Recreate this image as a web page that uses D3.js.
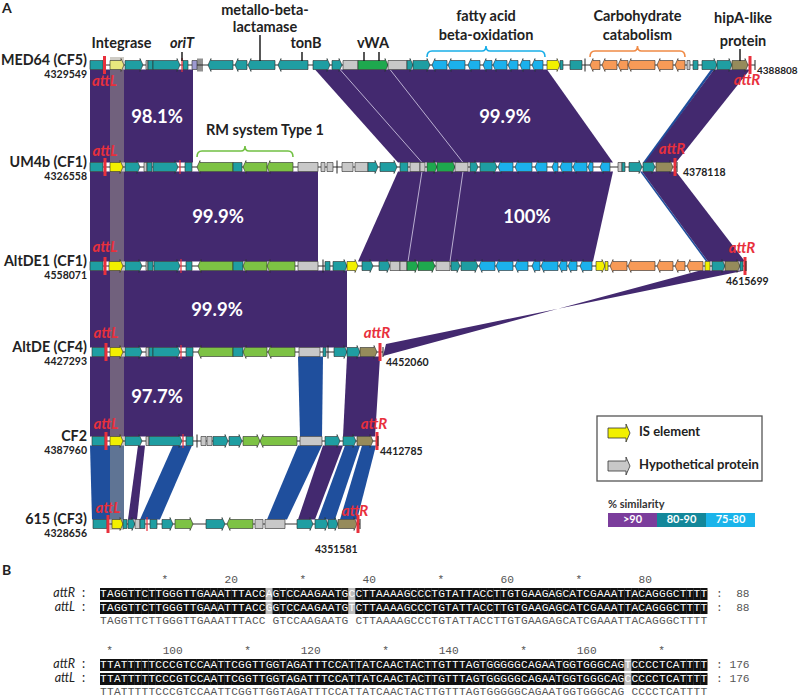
<!DOCTYPE html>
<html><head><meta charset="utf-8">
<script src="https://cdn.jsdelivr.net/npm/d3@7"></script>
<style>body{margin:0;background:#fff}svg{display:block}</style>
</head><body>
<script>
// ---------------- DATA ----------------
const trackNames = ["MED64 (CF5)","UM4b (CF1)","AltDE1 (CF1)","AltDE (CF4)","CF2","615 (CF3)"];
const trackStartCoords = ["4329549","4326558","4558071","4427293","4387960","4328656"];
const trackEndCoords = ["4388808","4378118","4615699","4452060","4412785","4351581"];
const trackSpans = [[0,66.5],[0,58.7],[0,65.6],[0.2,29.3],[0.2,28.8],[0.3,27.0]];
const attLPos = [1.45,1.5,1.5,1.6,1.6,1.8];
const attRPos = [66.0,58.5,65.5,29.0,28.7,26.8];
const oriTPos = [9.2,9.0,9.1,9.1,9.3,5.7];

// genes: [start kb, end kb, strand, type]
const genesMED64 = [[0,1.3,0,"t"],[2.0,3.4,1,"py"],[3.5,5.3,1,"t"],[5.6,5.8,0,"g"],[5.8,6.3,0,"t"],[6.3,9.0,1,"t"],[9.3,9.8,0,"t"],[10.2,10.7,0,"l"],[10.8,10.9,0,"k"],[11.0,11.1,0,"k"],[11.2,11.3,0,"k"],
 [11.8,14.3,-1,"t"],[14.5,15.7,-1,"t"],[15.8,18.5,-1,"t"],[18.8,21.8,-1,"t"],[22.3,24.0,1,"t"],[24.2,25.2,1,"t"],[25.3,26.8,0,"g"],[26.8,29.8,1,"dg"],[29.8,31.7,0,"g"],[31.7,32.3,1,"t"],[32.3,34.0,1,"t"],
 [34.2,35.7,-1,"b"],[35.8,37.5,-1,"b"],[37.8,39.0,-1,"b"],[39.3,40.2,-1,"b"],[40.3,41.7,-1,"b"],[41.8,42.8,-1,"b"],[43.0,44.0,-1,"b"],[44.2,45.3,-1,"b"],
 [45.7,47.0,1,"y"],[47.0,47.3,0,"t"],[48.0,49.2,0,"t"],[49.5,49.6,0,"k"],[50.0,51.0,-1,"o"],[51.2,52.7,-1,"o"],[52.8,53.8,-1,"o"],[53.8,56.5,-1,"o"],[56.7,58.3,-1,"o"],[58.5,59.5,-1,"o"],[59.7,60.0,0,"g"],
 [60.3,60.8,0,"t"],[61.2,62.7,1,"t"],[62.7,64.2,1,"t"],[64.2,65.8,1,"ol"]];
const genesUM4b = [[0,1.3,0,"t"],[2.0,3.3,1,"y"],[3.5,5.0,1,"t"],[5.4,5.7,0,"g"],[5.7,6.2,0,"t"],[6.3,8.8,1,"t"],[9.5,10.2,0,"t"],
 [10.7,14.3,-1,"lg"],[14.3,15.2,0,"t"],[15.3,17.7,-1,"lg"],[17.7,20.3,-1,"lg"],[20.8,22.8,0,"g"],[23.1,23.5,0,"g"],[23.7,24.3,0,"g"],[24.7,24.8,0,"k"],[25.2,26.3,0,"g"],[26.5,27.8,0,"g"],
 [27.8,28.8,1,"t"],[29.0,30.7,1,"t"],[31.0,31.8,0,"t"],[32.0,33.0,0,"g"],[33.0,33.5,0,"g"],[33.7,34.7,1,"dg"],[34.7,36.5,1,"dg"],[36.5,37.8,0,"g"],[38.0,38.8,1,"t"],[39.0,40.7,1,"t"],
 [40.8,42.3,-1,"b"],[42.5,44.2,-1,"b"],[44.5,45.7,-1,"b"],[46.2,46.8,-1,"b"],[47.0,48.2,-1,"b"],[48.3,49.7,-1,"b"],[49.8,50.3,-1,"b"],[51.0,52.0,-1,"b"],
 [52.8,53.2,0,"g"],[53.2,53.5,0,"t"],[53.9,55.2,1,"t"],[55.3,56.5,1,"t"],[56.6,58.3,1,"ol"]];
const genesAltDE1 = [[0,1.3,0,"t"],[1.9,3.3,1,"y"],[3.5,5.2,1,"t"],[5.6,5.8,0,"g"],[5.8,6.3,0,"t"],[6.4,9.0,1,"t"],[9.6,10.2,0,"t"],
 [10.8,14.3,-1,"lg"],[14.3,15.3,0,"t"],[15.3,17.7,-1,"lg"],[17.7,20.5,-1,"lg"],[20.8,22.8,0,"g"],[23.3,23.4,0,"k"],[23.5,24.0,0,"t"],
 [24.3,25.7,1,"t"],[25.7,26.8,1,"y"],[27.2,28.3,1,"t"],[28.9,30.0,1,"t"],[30.0,31.0,0,"g"],[31.0,31.7,0,"g"],[31.7,32.8,1,"dg"],[32.8,34.5,1,"dg"],[34.6,36.0,0,"g"],[36.1,37.0,1,"t"],[37.1,38.8,1,"t"],
 [38.9,40.5,-1,"b"],[40.6,42.3,-1,"b"],[42.5,43.8,-1,"b"],[44.2,45.0,-1,"b"],[45.1,46.8,-1,"b"],[46.9,47.7,-1,"b"],[47.8,48.7,-1,"b"],[49.0,50.2,-1,"b"],
 [50.6,51.5,1,"y"],[51.5,51.8,0,"y"],[52.0,53.7,-1,"o"],[53.8,56.5,-1,"o"],[56.7,58.3,-1,"o"],[58.5,59.5,-1,"o"],[59.7,61.3,-1,"o"],[61.5,62.0,0,"y"],[62.2,63.5,1,"t"],[63.5,65.0,1,"ol"],[65.0,65.3,0,"t"]];
const genesAltDE = [[0.2,1.5,0,"t"],[2.0,3.3,1,"y"],[3.5,5.2,1,"t"],[5.6,5.9,0,"g"],[5.9,6.3,0,"t"],[6.3,9.0,1,"t"],[9.6,10.3,0,"t"],
 [10.8,14.3,-1,"lg"],[14.3,15.3,0,"t"],[15.3,17.7,-1,"lg"],[17.8,20.5,-1,"lg"],[20.9,23.0,0,"g"],[23.3,23.6,0,"t"],[23.8,23.9,0,"k"],[24.4,25.7,1,"t"],[25.7,27.0,1,"t"],[27.0,28.7,1,"ol"]];
const genesCF2 = [[0.2,1.5,0,"t"],[2.0,3.3,1,"y"],[3.5,5.2,1,"t"],[5.6,5.9,0,"g"],[5.9,9.2,1,"t"],[9.6,10.3,0,"t"],[10.7,10.8,0,"k"],[11.1,11.6,0,"g"],[11.7,12.2,0,"g"],
 [12.3,13.8,1,"t"],[13.9,15.2,1,"t"],[15.3,17.0,1,"lg"],[17.0,20.7,-1,"lg"],[21.0,23.2,0,"g"],[23.5,25.0,1,"t"],[25.3,26.6,1,"t"],[26.7,28.3,1,"ol"]];
const genes615 = [[0.3,1.7,0,"t"],[2.2,3.3,1,"y"],[3.3,3.7,0,"t"],[3.8,4.5,1,"t"],[4.5,5.0,0,"g"],[5.0,5.5,0,"t"],[6.0,6.7,0,"t"],[7.2,8.3,1,"t"],[8.5,10.3,1,"lg"],
 [11.6,13.5,1,"t"],[13.7,16.3,-1,"lg"],[16.5,17.3,0,"g"],[17.5,19.5,0,"g"],[20.7,22.3,1,"t"],[22.5,23.8,1,"t"],[23.8,24.8,1,"t"],[24.8,26.7,1,"ol"]];
const trackGenes = [genesMED64,genesUM4b,genesAltDE1,genesAltDE,genesCF2,genes615];

// similarity bands between consecutive tracks: [topStart, topEnd, bottomStart, bottomEnd, level]
const bandsMED64toUM4b = [[0,10.3,0,10.3,">90"],[22.5,45.7,30.8,52.3,">90"],[62.1,62.4,55.3,55.6,"blue"],[62.4,66.0,55.5,58.6,">90"]];
const bandsUM4btoAltDE1 = [[0,22.8,0,22.8,">90"],[30.8,52.3,26.8,50.3,">90"],[55.0,55.2,61.6,61.8,"blue"],[55.2,58.6,61.8,65.5,">90"]];
const bandsAltDE1toAltDE = [[0,25.7,0,25.7,">90"],[61.0,65.5,29.3,29.6,">90"]];
const bandsAltDEtoCF2 = [[0,10.3,0,10.3,">90"],[20.8,23.3,21.0,23.2,"blue"],[25.7,29.0,25.3,28.5,">90"]];
const bandsCF2to615 = [[0,3.4,0.2,3.4,"blue"],[4.8,5.5,3.8,4.7,">90"],[8.3,10.2,5.0,7.0,"blue"],[20.8,23.2,17.7,19.7,"blue"],[23.3,25.3,20.8,22.5,">90"],[25.5,27.0,22.8,24.5,"blue"],[27.2,28.6,25.0,26.7,"blue"]];
const trackBands = [bandsMED64toUM4b,bandsUM4btoAltDE1,bandsAltDE1toAltDE,bandsAltDEtoCF2,bandsCF2to615];
const seamsMED64toUM4b = [[25.0,33.2],[30.0,37.3]];
const seamsUM4btoAltDE1 = [[33.2,31.8],[37.3,36.0]];

const identityLabels = ["98.1%","99.9%","99.9%","100%","99.9%","97.7%"];
const identityPairs = [0,0,1,1,2,3];
const identityPos = [6.7,41.5,12.8,43.7,12.7,6.7];

const annotTexts = [["Integrase"],["oriT"],["metallo-beta-","lactamase"],["tonB"],["vWA"],["hipA-like","protein"]];
const annotCenters = [3.15,9.2,17.5,21.6,28.3,65.3];
const annotTicks = [[],[9.2],[17.0],[21.2],[27.4,28.9],[65.0]];
const bracketTexts = [["fatty acid","beta-oxidation"],["Carbohydrate","catabolism"],["RM system Type 1"]];
const bracketRanges = [[33.7,45.5],[50.0,59.5],[10.7,20.3]];

const legendItems = ["IS element","Hypothetical protein"];
const similarityLevels = [">90","80-90","75-80"];

// part B alignment
const seqAttR = ["TAGGTTCTTGGGTTGAAATTTACCAGTCCAAGAATGCCTTAAAAGCCCTGTATTACCTTGTGAAGAGCATCGAAATTACAGGGCTTTT",
                 "TTATTTTTCCCGTCCAATTCGGTTGGTAGATTTCCATTATCAACTACTTGTTTAGTGGGGGCAGAATGGTGGGCAGTCCCCTCATTTT"];
const seqAttL = ["TAGGTTCTTGGGTTGAAATTTACCGGTCCAAGAATGTCTTAAAAGCCCTGTATTACCTTGTGAAGAGCATCGAAATTACAGGGCTTTT",
                 "TTATTTTTCCCGTCCAATTCGGTTGGTAGATTTCCATTATCAACTACTTGTTTAGTGGGGGCAGAATGGTGGGCAGCCCCCTCATTTT"];
const blockEnds = [88,176];

// ---------------- STYLE / LAYOUT ----------------
const geneColors = {t:"#1f9ea2",y:"#f2f000",py:"#e9e77e",g:"#c8c8c8",lg:"#7dc244",dg:"#1ea84e",b:"#1bb1ec",o:"#f79a57",ol:"#968b5b",l:"#9d9ad0",k:"#222"};
const bandColors = {">90":"#43296f","blue":"#1f4f9d"};
const levelColors = {">90":"#7b3d9c","80-90":"#13879a","75-80":"#1bb4ea"};
const trackY = [65,167,266,352,441,524];
const sans = "Lato, 'Open Sans', sans-serif";
const red = "#e8303c";

const W=799,H=697;
const svg = d3.select("body").append("svg").attr("width",W).attr("height",H).style("font-family",sans);
const x = d3.scaleLinear().domain([0,67]).range([90,760]);
const gh = 4.5;

// bands
trackBands.forEach((bands,i)=>{
  const yT = trackY[i]+gh, yB = trackY[i+1]-gh;
  bands.forEach((b,j)=>{
    let pts;
    if(i===2 && j===1){
      pts = [[x(b[0]),yT],[x(b[1]),yT],[x(b[3]),trackY[3]-8],[x(b[2]),trackY[3]+4]];
    } else pts = [[x(b[0]),yT],[x(b[1]),yT],[x(b[3]),yB],[x(b[2]),yB]];
    svg.append("path").attr("d",d3.line()(pts)+"Z").attr("fill",bandColors[b[4]]);
  });
});
[[seamsMED64toUM4b,0],[seamsUM4btoAltDE1,1]].forEach(([seams,i])=>{
  seams.forEach(s=>svg.append("line").attr("x1",x(s[0])).attr("y1",trackY[i]+gh).attr("x2",x(s[1])).attr("y2",trackY[i+1]-gh)
    .attr("stroke","#d8d0ea").attr("stroke-width",0.8));
});

// gray stripe
svg.append("rect").attr("x",x(2.0)).attr("width",x(3.4)-x(2.0)).attr("y",57).attr("height",trackY[5]+6-57)
  .attr("fill","#a09a8c").attr("opacity",0.5);

// identity labels
identityLabels.forEach((t,i)=>{
  const p = identityPairs[i];
  svg.append("text").attr("x",x(identityPos[i])).attr("y",(trackY[p]+trackY[p+1])/2+2)
    .attr("text-anchor","middle").attr("dominant-baseline","middle")
    .attr("fill","#fff").attr("font-weight","bold").attr("font-size",18.5).text(t);
});

function genePath(s,e,strand,y){
  const x1=x(s), x2=x(e), w=x2-x1, tip=Math.min(3,w/2), hh=6.5;
  if(strand===1) return `M${x1},${y-gh}L${x2-tip},${y-gh}L${x2-tip},${y-hh}L${x2},${y}L${x2-tip},${y+hh}L${x2-tip},${y+gh}L${x1},${y+gh}Z`;
  if(strand===-1) return `M${x2},${y-gh}L${x1+tip},${y-gh}L${x1+tip},${y-hh}L${x1},${y}L${x1+tip},${y+hh}L${x1+tip},${y+gh}L${x2},${y+gh}Z`;
  return `M${x1},${y-gh}H${x2}V${y+gh}H${x1}Z`;
}

// tracks
trackGenes.forEach((genes,i)=>{
  const y = trackY[i], g = svg.append("g");
  g.append("line").attr("x1",x(trackSpans[i][0])).attr("x2",x(trackSpans[i][1])).attr("y1",y).attr("y2",y)
    .attr("stroke","#333").attr("stroke-width",1);
  genes.forEach(d=>{
    if(d[3]==="k"){
      g.append("line").attr("x1",x(d[0])).attr("x2",x(d[0])).attr("y1",y-6.5).attr("y2",y+6.5).attr("stroke","#222").attr("stroke-width",1);
      return;
    }
    g.append("path").attr("d",genePath(d[0],d[1],d[2],y)).attr("fill",geneColors[d[3]])
      .attr("stroke","#2a2a2a").attr("stroke-width",0.6);
  });
  [attLPos[i],attRPos[i]].forEach(p=>{
    g.append("rect").attr("x",x(p)-1.5).attr("width",3).attr("y",y-9).attr("height",18).attr("fill",red);
  });
  g.append("rect").attr("x",x(oriTPos[i])-0.7).attr("width",1.4).attr("y",y-7).attr("height",14).attr("fill",red).attr("opacity",0.85);
  g.append("line").attr("x1",x(trackSpans[i][1])).attr("x2",x(trackSpans[i][1])).attr("y1",y-5).attr("y2",y+5).attr("stroke","#222");
  g.append("text").attr("x",87).attr("y",y-4).attr("text-anchor","end").attr("dominant-baseline","middle")
    .attr("font-weight","bold").attr("font-size",14.3).attr("fill","#222").text(trackNames[i]);
  g.append("text").attr("x",87).attr("y",y+10).attr("text-anchor","end").attr("dominant-baseline","middle")
    .attr("font-weight","bold").attr("font-size",10.5).attr("fill","#222").text(trackStartCoords[i]);
});

// end coordinate labels (layout offsets)
const endLabelLayout = [[2,6],[6,6],[-20,16],[3,11],[2,11],[-45,26]];
trackEndCoords.forEach((t,i)=>{
  svg.append("text").attr("x",x(trackSpans[i][1])+endLabelLayout[i][0]).attr("y",trackY[i]+endLabelLayout[i][1])
    .attr("dominant-baseline","middle").attr("font-weight","bold").attr("font-size",i===0?10:10.5).attr("fill","#222").text(t);
});

// att labels
const attLDy = [17,-15,-18,-18,-16,-15];
const attRDy = [16,-17,-17,-18,-16,-12];
trackY.forEach((y,i)=>{
  svg.append("text").attr("x",x(attLPos[i])).attr("y",y+attLDy[i]).attr("text-anchor","middle").attr("dominant-baseline","middle")
    .attr("font-style","italic").attr("font-weight","bold").attr("font-size",15).attr("fill",red).text("attL");
  svg.append("text").attr("x",x(attRPos[i])-3).attr("y",y+attRDy[i]).attr("text-anchor","middle").attr("dominant-baseline","middle")
    .attr("font-style","italic").attr("font-weight","bold").attr("font-size",15).attr("fill",red).text("attR");
});

// annotations above MED64
const annotLineY = [[44],[44],[11,28],[44],[44],[19,42]];
annotTexts.forEach((lines,i)=>{
  lines.forEach((t,k)=>{
    svg.append("text").attr("x",x(annotCenters[i])).attr("y",annotLineY[i][k]).attr("text-anchor","middle").attr("dominant-baseline","middle")
      .attr("font-weight","bold").attr("font-size",14.5).attr("fill","#222").attr("font-style",t==="oriT"?"italic":"normal").text(t);
  });
  annotTicks[i].forEach(p=>{
    const top = lines.length>1 ? annotLineY[i][1]+7 : 52;
    svg.append("line").attr("x1",x(p)).attr("x2",x(p)).attr("y1",top).attr("y2",trackY[0]-4).attr("stroke","#111").attr("stroke-width",1.4);
  });
});

// brackets
const bracketColors = ["#19aee8","#f08a45","#72c043"];
const bracketY = [51,51,151];
const bracketTextY = [[17,36],[17,36],[131]];
bracketTexts.forEach((lines,i)=>{
  const a=x(bracketRanges[i][0]), b=x(bracketRanges[i][1]), m=(a+b)/2, y=bracketY[i];
  svg.append("path").attr("d",`M${a},${y+6}Q${a},${y} ${a+5},${y}L${m-4},${y}Q${m},${y} ${m},${y-5}Q${m},${y} ${m+4},${y}L${b-5},${y}Q${b},${y} ${b},${y+6}`)
    .attr("fill","none").attr("stroke",bracketColors[i]).attr("stroke-width",1.6);
  lines.forEach((t,k)=>{
    svg.append("text").attr("x",i===2?m+20:m).attr("y",bracketTextY[i][k]).attr("text-anchor","middle").attr("dominant-baseline","middle")
      .attr("font-weight","bold").attr("font-size",14.5).attr("fill","#222").text(t);
  });
});

svg.append("text").attr("x",2).attr("y",9).attr("dominant-baseline","middle").attr("font-weight","bold").attr("font-size",14).attr("fill","#222").text("A");

// legend
const lg = svg.append("g");
lg.append("rect").attr("x",597).attr("y",416).attr("width",165).attr("height",65).attr("fill","#fff").attr("stroke","#555").attr("stroke-width",1.3);
const swatchTypes = ["y","g"];
legendItems.forEach((t,i)=>{
  const yy = 433 + i*33;
  const p = `M608,${yy-5}H626V${yy-9}L630,${yy}L626,${yy+9}V${yy+5}H608Z`;
  lg.append("path").attr("d",p).attr("fill",geneColors[swatchTypes[i]]).attr("stroke","#333").attr("stroke-width",0.8);
  lg.append("text").attr("x",639).attr("y",yy).attr("dominant-baseline","middle").attr("font-weight","bold").attr("font-size",13).attr("fill","#222").text(t);
});
lg.append("text").attr("x",608).attr("y",505).attr("dominant-baseline","middle").attr("font-weight","bold").attr("font-size",11).attr("fill","#333").text("% similarity");
const lx = d3.scaleBand().domain(similarityLevels).range([608,755]);
similarityLevels.forEach(l=>{
  lg.append("rect").attr("x",lx(l)).attr("y",513).attr("width",lx.bandwidth()).attr("height",14).attr("fill",levelColors[l]);
  lg.append("text").attr("x",lx(l)+lx.bandwidth()/2).attr("y",520.5).attr("text-anchor","middle").attr("dominant-baseline","middle")
    .attr("font-weight","bold").attr("font-size",11).attr("fill","#fff").text(l);
});

// ---------------- PART B ----------------
svg.append("text").attr("x",2).attr("y",571).attr("dominant-baseline","middle").attr("font-weight","bold").attr("font-size",14).attr("fill","#222").text("B");
const mono = "'Liberation Mono', 'DejaVu Sans Mono', monospace";
const cx = d3.scaleBand().domain(d3.range(88)).range([100,707.2]);
const blockTop = [580,651];
seqAttR.forEach((sr,bi)=>{
  const sl = seqAttL[bi], y0 = blockTop[bi], start = bi*88;
  const g = svg.append("g").style("font-family",mono).attr("font-size",11.2);
  for(let i=1;i<=88;i++){
    const pos = start+i;
    if(pos%10!==0) continue;
    const label = pos%20===0 ? String(pos) : "*";
    g.append("text").attr("x",cx(i-1)+cx.bandwidth()).attr("y",y0).attr("text-anchor","end").attr("dominant-baseline","middle")
      .attr("fill","#555").text(label).attr("dx",label==="*"?-0.8:0);
  }
  const rows = [["attR",sr,y0+14],["attL",sl,y0+28]];
  rows.forEach(([name,s,yy])=>{
    svg.append("text").attr("x",75).attr("y",yy).attr("text-anchor","end").attr("dominant-baseline","middle")
      .attr("font-style","italic").attr("font-size",12.5).attr("fill","#222").text(name);
    svg.append("text").attr("x",82).attr("y",yy).attr("dominant-baseline","middle").attr("font-size",12.5).attr("fill","#222").text(":");
    const other = s===sr?sl:sr;
    s.split("").forEach((c,i)=>{
      const mm = c!==other[i];
      g.append("rect").attr("x",cx(i)).attr("y",yy-6).attr("width",cx.bandwidth()+0.3).attr("height",12).attr("fill",mm?"#bdbdbd":"#111");
      g.append("text").attr("x",cx(i)+cx.bandwidth()/2).attr("y",yy+0.5).attr("text-anchor","middle").attr("dominant-baseline","middle")
        .attr("fill","#fff").text(c);
    });
    g.append("text").attr("x",716).attr("y",yy).attr("dominant-baseline","middle").attr("fill","#555").text(": " + String(blockEnds[bi]).padStart(3," ").replace(/ /g,"\u00a0"));
  });
  const cons = sr.split("").map((c,i)=>c===sl[i]?c:" ");
  cons.forEach((c,i)=>{
    if(c===" ") return;
    g.append("text").attr("x",cx(i)+cx.bandwidth()/2).attr("y",y0+41).attr("text-anchor","middle").attr("dominant-baseline","middle")
      .attr("fill","#555").text(c);
  });
});
</script>
</body></html>
